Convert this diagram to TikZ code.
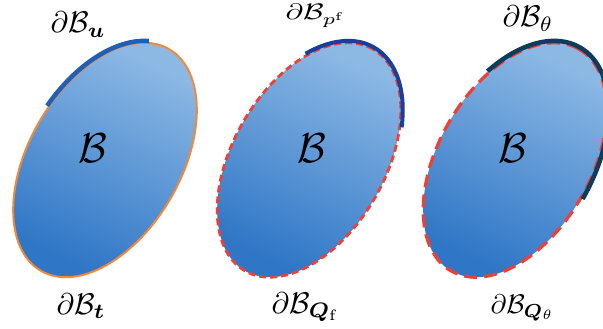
\documentclass[tikz,border=0pt]{standalone}
\usepackage{amsmath,bm}
\definecolor{fillLight}{HTML}{8CB8E4}
\definecolor{fillDark}{HTML}{2F76C6}
\definecolor{orangeB}{HTML}{F0893A}
\definecolor{blueA}{HTML}{1F5FB7}
\definecolor{blueB}{HTML}{1B3F98}
\definecolor{navyC}{HTML}{0E3C5C}
\definecolor{redB}{HTML}{EE4036}
\begin{document}
\begin{tikzpicture}[x=1bp,y=1bp,
  lab/.style={inner sep=0pt,scale=3,anchor=base west},
  bigB/.style={inner sep=0pt,scale=4.2},
  bodyfill/.style={top color=fillLight,bottom color=fillDark,shading angle=-25},
  arcA/.style={line width=4.5bp,blueA},
  arcB/.style={line width=4bp,blueB},
  arcC/.style={line width=4.5bp,navyC}]
\useasboundingbox (0,0) rectangle (603,328);
\clip (0,0) rectangle (603,328);
% body 1
\begin{scope}[shift={(105,168)},rotate=60]
  \shade[bodyfill] (0,0) ellipse[x radius=128bp,y radius=76bp];
  \draw[orangeB,line width=2bp] (0,0) ellipse[x radius=128bp,y radius=76bp];
  \draw[arcA] ({130*cos(16)},{78*sin(16)}) arc[start angle=16,end angle=82,x radius=130bp,y radius=78bp];
\end{scope}
% body 2
\begin{scope}[shift={(309,168)},rotate=60]
  \shade[bodyfill] (0,0) ellipse[x radius=128bp,y radius=76bp];
  \draw[redB,line width=2.8bp,dash pattern=on 7bp off 4bp] (0,0) ellipse[x radius=128bp,y radius=76bp];
  \draw[arcB] ({130*cos(-55)},{78*sin(-55)}) arc[start angle=-55,end angle=46,x radius=130bp,y radius=78bp];
\end{scope}
% body 3
\begin{scope}[shift={(515,168)},rotate=60]
  \shade[bodyfill] (0,0) ellipse[x radius=128bp,y radius=76bp];
  \draw[redB,line width=3.2bp,dash pattern=on 13bp off 7bp] (0,0) ellipse[x radius=128bp,y radius=76bp];
  \draw[arcC] ({130*cos(-90)},{78*sin(-90)}) arc[start angle=-90,end angle=61,x radius=130bp,y radius=78bp];
\end{scope}
% labels
\node[bigB] (b1) at (93,180) {$\mathcal{B}$};
\node[bigB] (b2) at (312,180) {$\mathcal{B}$};
\node[bigB] (b3) at (513,180) {$\mathcal{B}$};
\node[lab] (l1) at (50,295) {$\partial\mathcal{B}_{\bm{u}}$};
\node[lab] (l2) at (56,14) {$\partial\mathcal{B}_{\bm{t}}$};
\node[lab,xscale=1,yscale=0.75] (l3) at (285,308) {$\partial\mathcal{B}_{p^{\mathrm{f}}}$};
\node[lab] (l4) at (271,15) {$\partial\mathcal{B}_{\bm{Q}_{\mathrm{f}}}$};
\node[lab] (l5) at (502,301) {$\partial\mathcal{B}_{\theta}$};
\node[lab,scale=0.9] (l6) at (490,15) {$\partial\mathcal{B}_{\bm{Q}_{\theta}}$};
\end{tikzpicture}
\end{document}
